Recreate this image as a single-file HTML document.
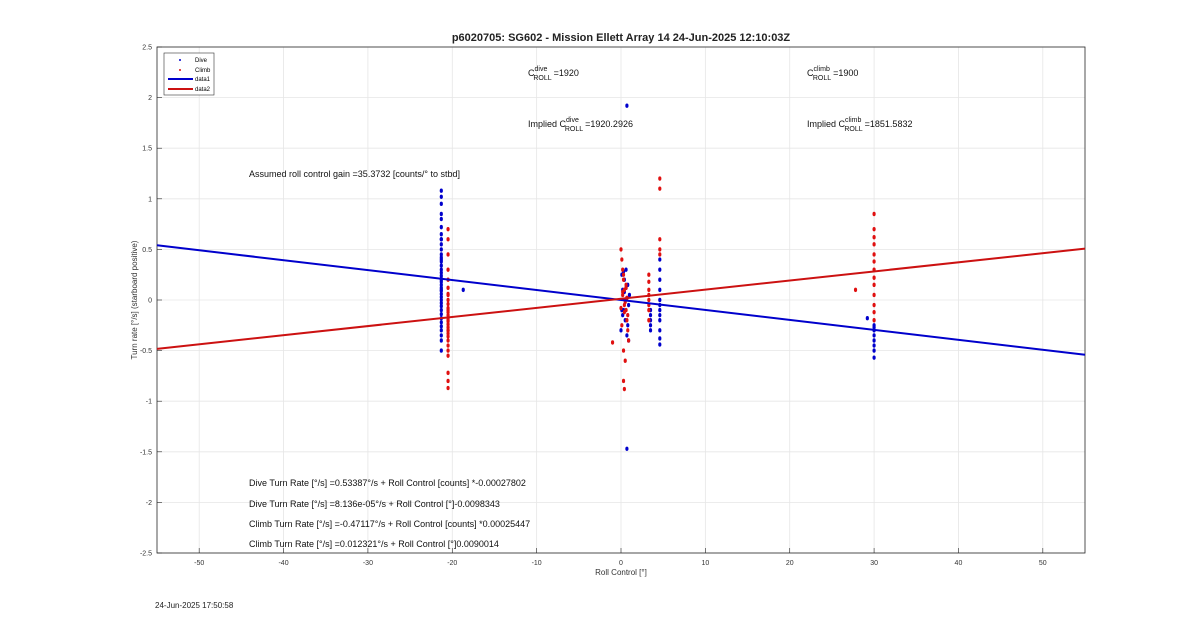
<!DOCTYPE html>
<html><head><meta charset="utf-8"><style>
body{margin:0;background:#fff;font-family:"Liberation Sans",sans-serif}
svg text{font-family:"Liberation Sans",sans-serif}
</style></head><body>
<svg id="chart" width="1200" height="622">
<rect width="1200" height="622" fill="#fff"/>
<g id="grid"></g>
<rect x="157" y="47" width="928" height="506" fill="none" stroke="#262626" stroke-width="0.8"/>
<g id="ticks"></g>
<g id="marks"></g>
<text x="621" y="41" text-anchor="middle" font-size="11" font-weight="bold" fill="#222">p6020705: SG602 - Mission Ellett Array 14 24-Jun-2025 12:10:03Z</text>
<text x="621" y="575" text-anchor="middle" font-size="8" fill="#333">Roll Control [°]</text>
<text transform="translate(137,300) rotate(-90)" text-anchor="middle" font-size="8" fill="#333">Turn rate [°/s] (starboard positive)</text>
<g font-size="9" fill="#111">
<text x="528" y="76">C<tspan dy="-5" font-size="7">dive</tspan><tspan dx="-14" dy="9" font-size="7">ROLL</tspan><tspan dy="-4" dx="2">=1920</tspan></text>
<text x="807" y="76">C<tspan dy="-5" font-size="7">climb</tspan><tspan dx="-17" dy="9" font-size="7">ROLL</tspan><tspan dy="-4" dx="2">=1900</tspan></text>
<text x="528" y="127">Implied C<tspan dy="-5" font-size="7">dive</tspan><tspan dx="-14" dy="9" font-size="7">ROLL</tspan><tspan dy="-4" dx="2">=1920.2926</tspan></text>
<text x="807" y="127">Implied C<tspan dy="-5" font-size="7">climb</tspan><tspan dx="-17" dy="9" font-size="7">ROLL</tspan><tspan dy="-4" dx="2">=1851.5832</tspan></text>
<text x="249" y="177">Assumed roll control gain =35.3732 [counts/° to stbd]</text>
<text x="249" y="486">Dive Turn Rate [°/s] =0.53387°/s + Roll Control [counts] *-0.00027802</text>
<text x="249" y="507">Dive Turn Rate [°/s] =8.136e-05°/s + Roll Control [°]-0.0098343</text>
<text x="249" y="527">Climb Turn Rate [°/s] =-0.47117°/s + Roll Control [counts] *0.00025447</text>
<text x="249" y="547">Climb Turn Rate [°/s] =0.012321°/s + Roll Control [°]0.0090014</text>
</g>
<text x="155" y="608" font-size="8" fill="#222">24-Jun-2025 17:50:58</text>
<g>
<rect x="164" y="53" width="50" height="42" fill="#fff" stroke="#333" stroke-width="0.6"/>
<circle cx="180" cy="60" r="1" fill="#0000cc"/><text x="195" y="62" font-size="6">Dive</text>
<circle cx="180" cy="70" r="1" fill="#dd1111"/><text x="195" y="72" font-size="6">Climb</text>
<line x1="168" y1="79" x2="193" y2="79" stroke="#0000cc" stroke-width="2"/><text x="195" y="81" font-size="6">data1</text>
<line x1="168" y1="89" x2="193" y2="89" stroke="#cc1111" stroke-width="2"/><text x="195" y="91" font-size="6">data2</text>
</g>
</svg>
<script>
const xTicks=[-50,-40,-30,-20,-10,0,10,20,30,40,50];
const yTicks=[-2.5,-2,-1.5,-1,-0.5,0,0.5,1,1.5,2,2.5];
const fitSlope=[-0.0098343,0.0090014];
const fitIntercept=[0.00008,0.012321];
const diveX=[-21.3,-21.3,-21.3,-21.3,-21.3,-21.3,-21.3,-21.3,-21.3,-21.3,-21.3,-21.3,-21.3,-21.3,-21.3,-21.3,-21.3,-21.3,-21.3,-21.3,-21.3,-21.3,-21.3,-21.3,-21.3,-21.3,-21.3,-21.3,-21.3,-21.3,-21.3,-21.3,-21.3,-21.3,-21.3,-21.3,-21.3,-21.3,-21.3,-21.3,-18.7,0.0,0.1,0.2,0.3,0.4,0.5,0.6,0.7,0.8,0.9,1.0,0.2,0.5,0.8,0.3,0.6,0.1,0.4,0.7,0.9,0.7,0.7,3.5,3.5,3.5,3.5,3.5,4.6,4.6,4.6,4.6,4.6,4.6,4.6,4.6,4.6,4.6,4.6,4.6,30,30,30,30,30,30,30,30,29.2];
const diveY=[1.08,1.02,0.95,0.85,0.8,0.72,0.65,0.6,0.55,0.5,0.45,0.42,0.38,0.34,0.3,0.27,0.24,0.21,0.18,0.15,0.12,0.09,0.06,0.03,0.0,-0.03,-0.06,-0.1,-0.14,-0.18,-0.22,-0.26,-0.3,-0.35,-0.4,-0.5,0.4,0.2,0.6,0.1,0.1,-0.3,0.25,0.1,-0.1,0.2,-0.2,0.3,-0.35,0.15,-0.05,0.05,-0.15,0.0,-0.25,0.28,0.12,-0.1,0.08,0.02,-0.4,1.92,-1.47,-0.1,-0.15,-0.2,-0.25,-0.3,0.4,0.3,0.2,0.1,0.0,-0.05,-0.1,-0.15,-0.2,-0.3,-0.38,-0.44,-0.25,-0.3,-0.35,-0.4,-0.45,-0.5,-0.57,-0.27,-0.18];
const climbX=[-20.5,-20.5,-20.5,-20.5,-20.5,-20.5,-20.5,-20.5,-20.5,-20.5,-20.5,-20.5,-20.5,-20.5,-20.5,-20.5,-20.5,-20.5,-20.5,-20.5,-20.5,-20.5,-20.5,-20.5,-20.5,-20.5,-20.5,-20.5,-20.5,-20.5,0.0,0.1,0.2,0.3,0.4,0.5,0.6,0.7,0.8,0.9,0.2,0.4,0.6,0.8,0.1,0.3,0.5,0.7,0.0,0.2,0.4,0.6,0.3,0.5,0.3,0.4,-1,3.3,3.3,3.3,3.3,3.3,3.3,3.3,3.3,4.6,4.6,4.6,4.6,4.6,30,30,30,30,30,30,30,30,30,30,30,30,30,27.8];
const climbY=[0.7,0.6,0.45,0.3,0.2,0.12,0.06,0.0,-0.04,-0.08,-0.12,-0.15,-0.18,-0.21,-0.24,-0.27,-0.3,-0.33,-0.36,-0.4,-0.45,-0.5,-0.55,-0.72,-0.8,-0.87,0.05,-0.1,-0.2,-0.3,0.5,0.4,0.3,0.2,0.1,0.0,-0.1,-0.2,-0.3,-0.4,0.05,-0.05,0.15,-0.15,-0.25,0.25,-0.02,0.02,-0.08,0.08,-0.12,0.12,-0.5,-0.6,-0.8,-0.88,-0.42,0.25,0.18,0.1,0.05,0.0,-0.05,-0.1,-0.2,1.2,1.1,0.6,0.5,0.45,0.85,0.7,0.62,0.55,0.45,0.38,0.3,0.22,0.15,0.05,-0.05,-0.12,-0.2,0.1];
const ns='http://www.w3.org/2000/svg';
const X=v=>157+(v+55)*928/110;
const Y=v=>300-v*101.2;
function mk(tag,attrs,parent){const e=document.createElementNS(ns,tag);for(const k in attrs)e.setAttribute(k,attrs[k]);document.getElementById(parent).appendChild(e);return e;}
xTicks.forEach(t=>{
 const g=mk('line',{x1:X(t),x2:X(t),y1:47,y2:553,stroke:'#e6e6e6','stroke-width':0.8},'grid');
 
 
 mk('line',{x1:X(t),x2:X(t),y1:553,y2:548,stroke:'#262626','stroke-width':0.6},'ticks');
 const l=mk('text',{x:X(t),y:565,'text-anchor':'middle','font-size':7,fill:'#333'},'ticks');
 l.textContent=t;
 
 
});
yTicks.forEach(t=>{
 const g=mk('line',{x1:157,x2:1085,y1:Y(t),y2:Y(t),stroke:'#e6e6e6','stroke-width':0.8},'grid');
 
 
 mk('line',{x1:157,x2:162,y1:Y(t),y2:Y(t),stroke:'#262626','stroke-width':0.6},'ticks');
 const l=mk('text',{x:152,y:Y(t)+2.5,'text-anchor':'end','font-size':7,fill:'#333'},'ticks');
 l.textContent=t;
 
 
});
diveX.forEach((x,i)=>{
 const c=mk('ellipse',{cx:X(x),cy:Y(diveY[i]),rx:1.6,ry:2.2,fill:'#0000cc'},'marks');
 
 
});
climbX.forEach((x,i)=>{
 const c=mk('ellipse',{cx:X(x),cy:Y(climbY[i]),rx:1.6,ry:2.2,fill:'#e01010'},'marks');
 
 
});
const colors=['#0000cc','#cc1111'];
fitSlope.forEach((s,i)=>{
 const b=fitIntercept[i];
 const l=mk('line',{x1:X(-55),y1:Y(b+s*-55),x2:X(55),y2:Y(b+s*55),stroke:colors[i],'stroke-width':2},'marks');
 
 
});
</script>
</body></html>
